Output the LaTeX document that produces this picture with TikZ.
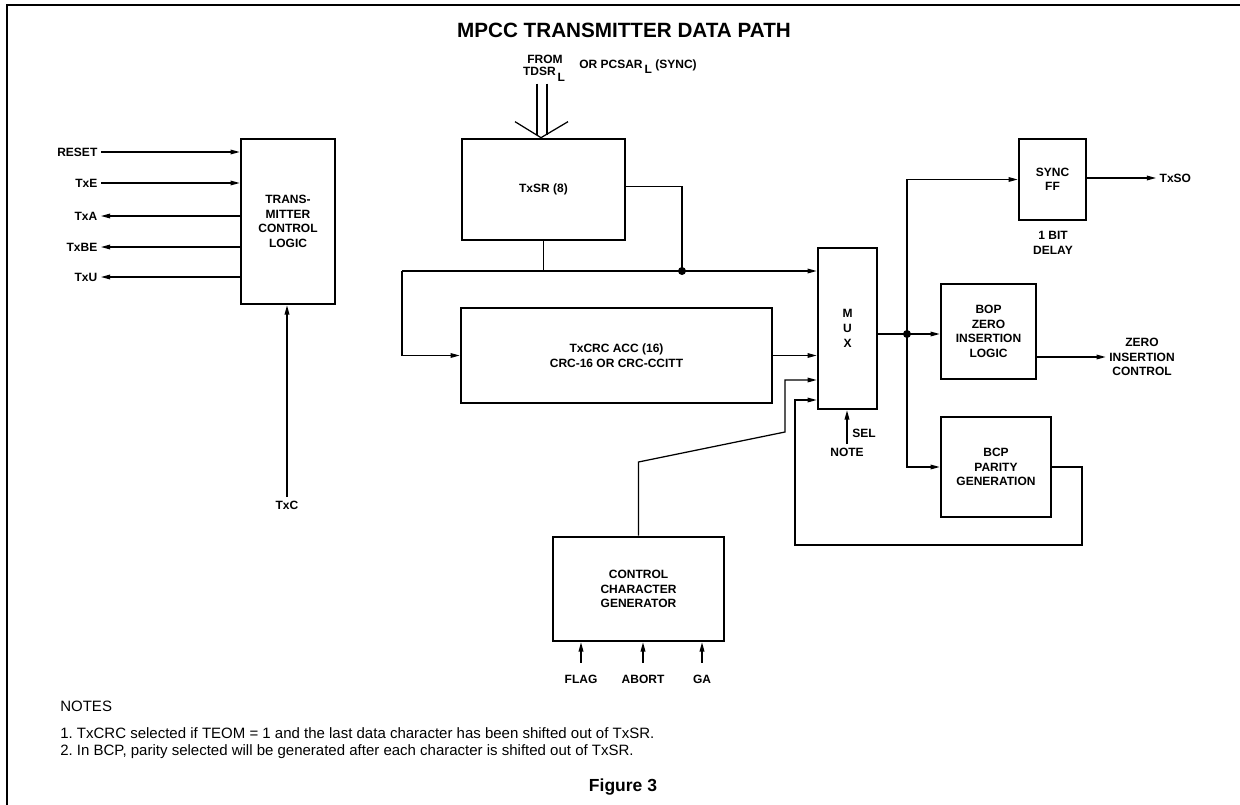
\documentclass[tikz,border=0pt]{standalone}
\usepackage{fontspec}
\setmainfont{Liberation Sans}
\setsansfont{Liberation Sans}
\usetikzlibrary{arrows.meta,calc}
\newcommand\lblf{\fontsize{7.2}{8.7}\selectfont\bfseries}
\newcommand\notef{\fontsize{9}{11}\selectfont}
\begin{document}
\begin{tikzpicture}[x=0.6pt,y=-0.6pt,
  box/.style={draw,line width=1.6pt,inner sep=0pt,align=center,font=\lblf},
  lbl/.style={inner sep=2pt,align=center,font=\lblf},
  wire/.style={line width=0.75pt},
  arr/.style={wire,-{Triangle[length=5.5pt,width=2.8pt]}},
  frameline/.style={line width=1pt}]
\useasboundingbox (0,0) rectangle (1240,805);
\draw[frameline] (7,805) -- (7,5) -- (1240,5);

% title
\node[font=\fontsize{12.4}{14}\selectfont\bfseries] (title) at (624,30) {MPCC TRANSMITTER DATA PATH};

% boxes
\node[box,minimum width=56.4pt,minimum height=99pt] (tcl) at (288,221.5) {TRANS-\\MITTER\\CONTROL\\LOGIC};
\node[box,minimum width=97.8pt,minimum height=60.6pt] (txsr) at (543.5,189.5) {TxSR (8)};
\node[box,minimum width=186.6pt,minimum height=57pt] (crc) at (616.5,355.5) {TxCRC ACC (16)\\CRC-16 OR CRC-CCITT};
\node[box,minimum width=35.4pt,minimum height=96.6pt,font=\fontsize{7.2}{9}\selectfont\bfseries] (mux) at (847.5,328.5) {M\\U\\X};
\node[box,minimum width=40.2pt,minimum height=48.6pt] (sync) at (1052.5,179.5) {SYNC\\FF};
\node[box,minimum width=57pt,minimum height=57pt] (bop) at (988.5,331.5) {BOP\\ZERO\\INSERTION\\LOGIC};
\node[box,minimum width=66pt,minimum height=60pt] (bcp) at (996,467) {BCP\\PARITY\\GENERATION};
\node[box,minimum width=102.6pt,minimum height=62.4pt] (ccg) at (638.5,589) {CONTROL\\CHARACTER\\GENERATOR};

% left labels
\node[lbl,anchor=east] (reset) at (101,152) {RESET};
\node[lbl,anchor=east] (txe) at (101,183) {TxE};
\node[lbl,anchor=east] (txa) at (101,216) {TxA};
\node[lbl,anchor=east] (txbe) at (101,247) {TxBE};
\node[lbl,anchor=east] (txu) at (101,277) {TxU};
\node[lbl] (txc) at (287,505) {TxC};
\draw[arr] (reset.east) -- (tcl.west |- reset.east);
\draw[arr] (txe.east) -- (tcl.west |- txe.east);
\draw[arr] (tcl.west |- txa.east) -- (txa.east);
\draw[arr] (tcl.west |- txbe.east) -- (txbe.east);
\draw[arr] (tcl.west |- txu.east) -- (txu.east);
\draw[arr] (txc.north) -- (tcl.south -| txc.north);

% top input
\node[lbl] (from) at (545,59) {FROM};
\node[lbl] (tdsr) at (544,74) {TDSR\,\raisebox{-3.5pt}{L}};
\node[lbl] (pcsar) at (638,67) {OR PCSAR\,\raisebox{-3pt}{L} (SYNC)};
\coordinate (ap) at ([xshift=-1.5pt]txsr.north);
\draw[wire] ($(ap)+(-4,-54)$) -- ($(ap)+(-4,-3)$);
\draw[wire] ($(ap)+(6,-54)$) -- ($(ap)+(6,-3)$);
\draw[wire] ($(ap)+(-26,-16)$) -- (ap) -- ($(ap)+(27,-16)$);

% TxSR outputs
\coordinate (l1) at (402,271);
\coordinate (jd) at (682,271);
\draw[wire] ([yshift=2pt]txsr.east) -| (jd);
\draw[wire] (txsr.south) -- (txsr.south |- l1);
\draw[arr] (l1) -- (mux.west |- l1);
\draw[arr] (l1) |- (crc.west);
\fill (jd) circle (2.4pt);
\draw[arr] (crc.east) -- (mux.west |- crc.east);

% control character generator to mux
\coordinate (c1) at (638.5,462);
\coordinate (c2) at (785,432);
\coordinate (c3) at (785,380);
\draw[arr] (ccg.north) -- (c1) -- (c2) -- (c3) -- (mux.west |- c3);

% parity feedback
\coordinate (f1) at (1082,545);
\coordinate (f2) at (795,400);
\draw[arr] (bcp.east) -| (f1) -| (f2) -- (mux.west |- f2);

% sel
\node[lbl] (note) at (847,452) {NOTE};
\node[lbl] (sel) at (864,433) {SEL};
\draw[arr] (note.north) -- (mux.south -| note.north);

% mux output bus
\coordinate (md) at (907,334);
\draw[wire] (mux.east |- md) -- (md);
\fill (md) circle (2.4pt);
\draw[arr] (md) -- (bop.west |- md);
\draw[arr] (md) |- (sync.west);
\draw[arr] (md) |- (bcp.west);

% outputs
\node[lbl,anchor=west] (txso) at (1156,178) {TxSO};
\draw[arr] (sync.east |- txso.west) -- (txso.west);
\node[lbl] (delay) at (1053,243) {1 BIT\\DELAY};
\node[lbl] (zic) at (1142,357) {ZERO\\INSERTION\\CONTROL};
\draw[arr] (bop.east |- zic.west) -- (zic.west);

% ccg inputs
\node[lbl] (flag) at (581,679) {FLAG};
\node[lbl] (abort) at (643,679) {ABORT};
\node[lbl] (ga) at (702,679) {GA};
\draw[arr] ([yshift=5pt]flag.north) -- (ccg.south -| flag.north);
\draw[arr] ([yshift=5pt]abort.north) -- (ccg.south -| abort.north);
\draw[arr] ([yshift=5pt]ga.north) -- (ccg.south -| ga.north);

% notes
\node[font=\notef,anchor=west,inner sep=0pt] (notes) at (60,706) {NOTES};
\node[font=\notef,anchor=west,inner sep=0pt] (n1) at (60,733) {\makebox[10pt][l]{1.}TxCRC selected if TEOM = 1 and the last data character has been shifted out of TxSR.};
\node[font=\notef,anchor=west,inner sep=0pt] (n2) at (60,752) {\makebox[10pt][l]{2.}In BCP, parity selected will be generated after each character is shifted out of TxSR.};
\node[font=\fontsize{10.5}{12}\selectfont\bfseries] (fig) at (623,787) {Figure 3};
\end{tikzpicture}
\end{document}
